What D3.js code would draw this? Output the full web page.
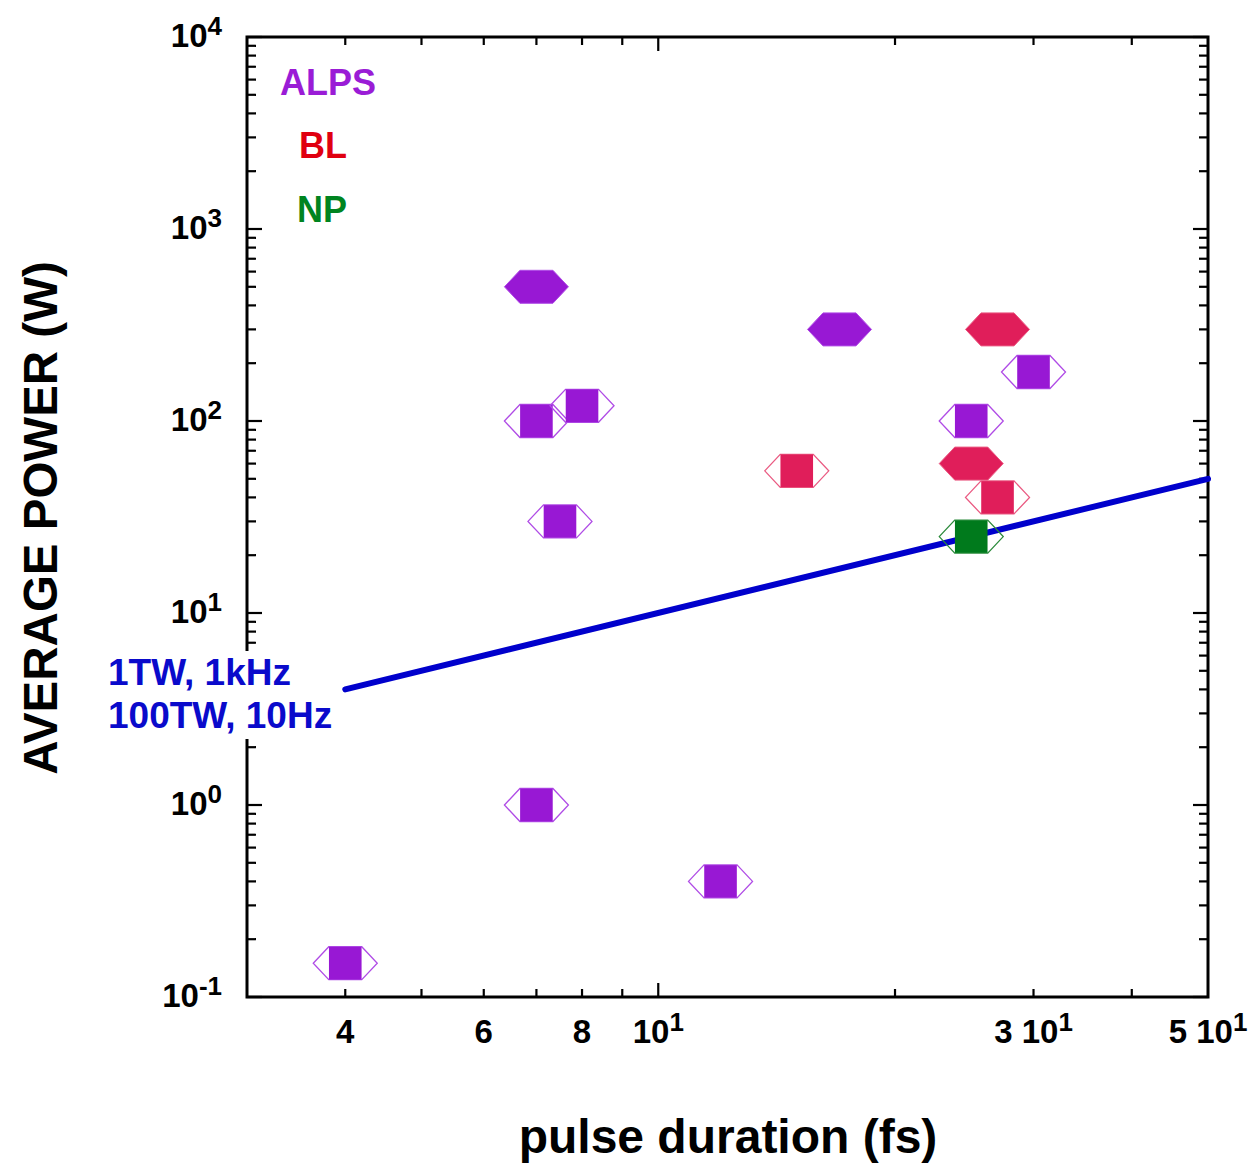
<!DOCTYPE html>
<html>
<head>
<meta charset="utf-8">
<script src="https://cdn.jsdelivr.net/npm/d3@7"></script>
<style>
  html, body { margin: 0; padding: 0; background: #fff; }
  svg text { font-family: "Liberation Sans", Arial, sans-serif; font-weight: bold; }
</style>
</head>
<body>
<svg id="chart" width="1255" height="1166"></svg>
<script>
// Average power vs pulse duration for high-repetition lasers
const groups = ["ALPS", "BL", "NP"];
const groupColors = { ALPS: "#9818d4", BL: "#e01e5a", NP: "#007a1c" };
const groupOutline = { ALPS: "#b04ce6", BL: "#ea5a82", NP: "#2a8a3a" };
const legendColors = { ALPS: "#9a1cd6", BL: "#e00010", NP: "#008420" };

// hexagon markers (filled)
const hexGroup = ["ALPS", "ALPS", "BL", "BL"];
const hexDuration = [7, 17, 27, 25];
const hexPower = [500, 300, 300, 60];

// square-in-hexagon markers
const sqGroup = ["ALPS", "ALPS", "ALPS", "ALPS", "ALPS", "ALPS", "ALPS", "ALPS", "BL", "BL", "NP"];
const sqDuration = [7, 8, 7.5, 25, 30, 7, 12, 4, 15, 27, 25];
const sqPower = [100, 120, 30, 100, 180, 1, 0.4, 0.15, 55, 40, 25];

// reference line: 1 TW at 1 kHz (or 100 TW at 10 Hz) -> P[W] = t[fs]
const lineDuration = [4, 50];
const linePower = [4, 50];
const lineLabel = ["1TW, 1kHz", "100TW, 10Hz"];

// axes
const xMajorTicks = [10];
const xMinorTicks = [4, 5, 6, 7, 8, 9, 20, 30, 40];
const xLabelValues = [4, 6, 8, 10, 30, 50];
const xLabelMantissa = ["4", "6", "8", "10", "3 10", "5 10"];
const xLabelExponent = ["", "", "", "1", "1", "1"];
const yDecades = [0.1, 1, 10, 100, 1000, 10000];
const yExponents = ["-1", "0", "1", "2", "3", "4"];

const svg = d3.select("#chart");
const plotLeft = 247, plotRight = 1208, plotTop = 37, plotBottom = 997;

const x = d3.scaleLog().domain([3, 50]).range([plotLeft, plotRight]);
const y = d3.scaleLog().domain([0.1, 10000]).range([plotBottom, plotTop]);

// y minor ticks: 2..9 within each decade
const yMinorTicks = [];
yDecades.slice(0, -1).forEach(d => { for (let k = 2; k <= 9; k++) yMinorTicks.push(d * k); });

const tickG = svg.append("g").attr("stroke", "#000").attr("stroke-width", 2.2);

// left & right ticks
yDecades.forEach(v => {
  tickG.append("line").attr("x1", plotLeft).attr("x2", plotLeft + 15).attr("y1", y(v)).attr("y2", y(v));
  tickG.append("line").attr("x1", plotRight).attr("x2", plotRight - 15).attr("y1", y(v)).attr("y2", y(v));
});
yMinorTicks.forEach(v => {
  tickG.append("line").attr("x1", plotLeft).attr("x2", plotLeft + 9).attr("y1", y(v)).attr("y2", y(v));
  tickG.append("line").attr("x1", plotRight).attr("x2", plotRight - 9).attr("y1", y(v)).attr("y2", y(v));
});
// bottom & top ticks
xMajorTicks.forEach(v => {
  tickG.append("line").attr("x1", x(v)).attr("x2", x(v)).attr("y1", plotBottom).attr("y2", plotBottom - 14);
  tickG.append("line").attr("x1", x(v)).attr("x2", x(v)).attr("y1", plotTop).attr("y2", plotTop + 14);
});
xMinorTicks.forEach(v => {
  tickG.append("line").attr("x1", x(v)).attr("x2", x(v)).attr("y1", plotBottom).attr("y2", plotBottom - 8);
  tickG.append("line").attr("x1", x(v)).attr("x2", x(v)).attr("y1", plotTop).attr("y2", plotTop + 8);
});

// frame
svg.append("rect").attr("x", plotLeft).attr("y", plotTop)
  .attr("width", plotRight - plotLeft).attr("height", plotBottom - plotTop)
  .attr("fill", "none").attr("stroke", "#000").attr("stroke-width", 3);

// y tick labels
yDecades.forEach((v, i) => {
  const t = svg.append("text").attr("x", 222).attr("y", y(v) + 10)
    .attr("text-anchor", "end").attr("font-size", 33).attr("fill", "#000");
  t.append("tspan").text("10");
  t.append("tspan").attr("dy", -12).attr("font-size", 26).text(yExponents[i]);
});

// x tick labels
xLabelValues.forEach((v, i) => {
  const t = svg.append("text").attr("x", x(v)).attr("y", 1043)
    .attr("text-anchor", "middle").attr("font-size", 33).attr("fill", "#000");
  t.append("tspan").text(xLabelMantissa[i]);
  if (xLabelExponent[i]) t.append("tspan").attr("dy", -12).attr("font-size", 26).text(xLabelExponent[i]);
});

// axis titles
svg.append("text").attr("transform", "translate(57,518) rotate(-90)")
  .attr("text-anchor", "middle").attr("font-size", 47.5).attr("fill", "#000").text("AVERAGE POWER (W)");
svg.append("text").attr("x", 728).attr("y", 1153)
  .attr("text-anchor", "middle").attr("font-size", 48).attr("fill", "#000").text("pulse duration (fs)");

// reference line
svg.append("path")
  .datum(lineDuration.map((d, i) => [d, linePower[i]]))
  .attr("d", d3.line().x(d => x(d[0])).y(d => y(d[1])))
  .attr("fill", "none").attr("stroke", "#0000cc").attr("stroke-width", 6).attr("stroke-linecap", "round");

// line label on an opaque box (it sits over the left axis)
const labelG = svg.append("g");
labelG.append("rect").attr("x", 104).attr("y", 651).attr("width", 232).attr("height", 88).attr("fill", "#fff");
lineLabel.forEach((s, i) => {
  labelG.append("text").attr("x", 108).attr("y", 685 + i * 43)
    .attr("font-size", 37).attr("fill", "#0a0acb").text(s);
});

// legend
const legendLeft = [280, 299, 297];
const legendBase = [95, 158, 222];
groups.forEach((g, i) => {
  svg.append("text").attr("x", legendLeft[i]).attr("y", legendBase[i])
    .attr("font-size", 36).attr("fill", legendColors[g]).text(g);
});

// marker geometry
const hw = 32, hh = 16.5, sq = 16.3;
const hexPath = `M${-hw},0L${-hh},${-hh}L${hh},${-hh}L${hw},0L${hh},${hh}L${-hh},${hh}Z`;

// filled hexagons
svg.append("g").selectAll("path").data(hexDuration.map((d, i) => ({ t: d, p: hexPower[i], g: hexGroup[i] })))
  .join("path")
  .attr("transform", d => `translate(${x(d.t)},${y(d.p)})`)
  .attr("d", hexPath)
  .attr("fill", d => groupColors[d.g])
  .attr("stroke", d => groupOutline[d.g]).attr("stroke-width", 1);

// squares inside outlined hexagons
const sqG = svg.append("g").selectAll("g").data(sqDuration.map((d, i) => ({ t: d, p: sqPower[i], g: sqGroup[i] })))
  .join("g")
  .attr("transform", d => `translate(${x(d.t)},${y(d.p)})`);
sqG.append("path").attr("d", hexPath).attr("fill", "none")
  .attr("stroke", d => groupOutline[d.g]).attr("stroke-width", 1.3);
sqG.append("rect").attr("x", -sq).attr("y", -sq).attr("width", 2 * sq).attr("height", 2 * sq)
  .attr("fill", d => groupColors[d.g]);
</script>
</body>
</html>
